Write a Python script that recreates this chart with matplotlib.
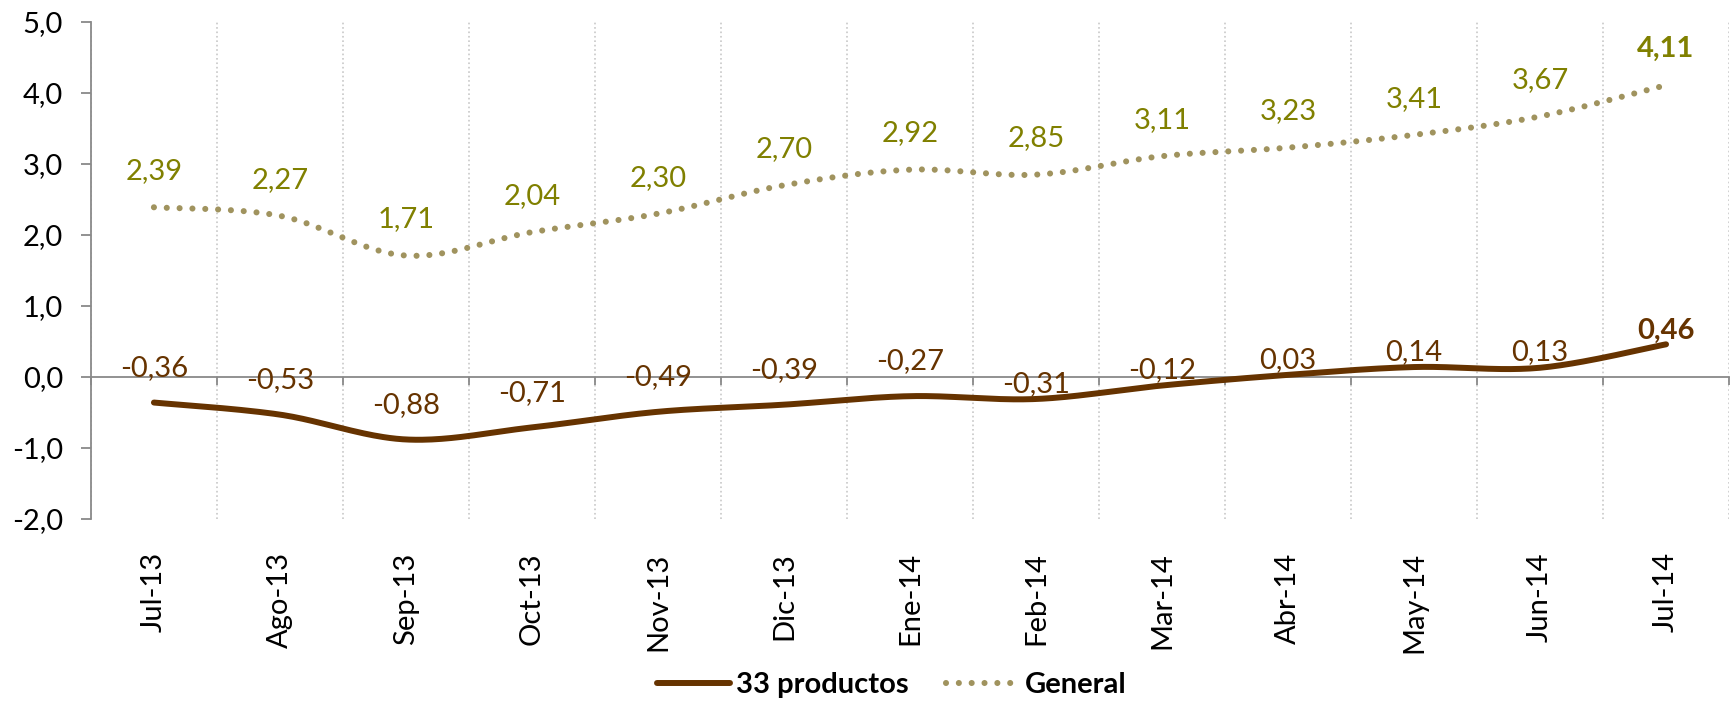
import numpy as np
import matplotlib
matplotlib.use("Agg")
import matplotlib.pyplot as plt
from matplotlib.ticker import FuncFormatter

plt.rcParams['font.family'] = ['Lato', 'DejaVu Sans']

# data
months = ['Jul-13', 'Ago-13', 'Sep-13', 'Oct-13', 'Nov-13', 'Dic-13', 'Ene-14',
          'Feb-14', 'Mar-14', 'Abr-14', 'May-14', 'Jun-14', 'Jul-14']
productos33 = [-0.36, -0.53, -0.88, -0.71, -0.49, -0.39, -0.27,
               -0.31, -0.12, 0.03, 0.14, 0.13, 0.46]
general = [2.39, 2.27, 1.71, 2.04, 2.30, 2.70, 2.92,
           2.85, 3.11, 3.23, 3.41, 3.67, 4.11]

# label offsets (points above the point), layout only
off_prod = [25, 25, 25, 25, 25, 25, 25, 11, 11, 11, 11, 11, 10]
off_gen = 26

BROWN = '#663300'
TAN = '#A0935E'
OLIVE = '#808000'
GREY = '#898989'
FS = 21


def smooth(xs, ys, n=40):
    # excel-like smoothed line: bezier segments, catmull-rom control points
    p = np.column_stack([xs, ys]).astype(float)
    p = np.vstack([p[0], p, p[-1]])
    out = []
    t = np.linspace(0, 1, n)[:, None]
    for i in range(1, len(p) - 2):
        p0, p3 = p[i], p[i + 1]
        p1 = p0 + (p[i + 1] - p[i - 1]) / 6
        p2 = p3 - (p[i + 2] - p[i]) / 6
        seg = ((1 - t) ** 3 * p0 + 3 * (1 - t) ** 2 * t * p1
               + 3 * (1 - t) * t ** 2 * p2 + t ** 3 * p3)
        out.append(seg if i == 1 else seg[1:])
    out = np.vstack(out)
    return out[:, 0], out[:, 1]


x = np.arange(len(months))
fmt = lambda v: f"{v:.2f}".replace('.', ',')

fig = plt.figure(figsize=(17.32, 7.02), dpi=100)
ax = fig.add_axes([0.0525, 0.2607, 0.9458, 0.708])

sx, sy = smooth(x, productos33)
ax.plot(sx, sy, color=BROWN, lw=4.3, solid_capstyle='round', label='33 productos', zorder=3)
gx, gy = smooth(x, general)
ax.plot(gx, gy, color=TAN, lw=4.4, linestyle=(0, (0.001, 2.1)),
        dash_capstyle='round', label='General', zorder=3)

for i, v in enumerate(productos33):
    last = i == len(x) - 1
    ax.annotate(fmt(v), (x[i], v), xytext=(0, off_prod[i]), textcoords='offset points',
                ha='center', va='center', fontsize=FS, color=BROWN,
                fontweight='bold' if last else 'normal')
for i, v in enumerate(general):
    last = i == len(x) - 1
    ax.annotate(fmt(v), (x[i], v), xytext=(0, off_gen), textcoords='offset points',
                ha='center', va='center', fontsize=FS, color=OLIVE,
                fontweight='bold' if last else 'normal')

ax.set_xlim(-0.5, len(x) - 0.5)
ax.set_ylim(-2, 5)
ax.set_yticks(np.arange(-2, 5.1, 1))
ax.yaxis.set_major_formatter(FuncFormatter(lambda v, p: f"{v:.1f}".replace('.', ',')))
ax.tick_params(axis='y', labelsize=FS, length=7, width=1.3, color=GREY, pad=13)

# x axis line through zero with ticks on category borders
ax.spines['bottom'].set_position(('data', 0))
ax.spines['bottom'].set_color(GREY)
ax.spines['bottom'].set_linewidth(1.3)
ax.spines['left'].set_color(GREY)
ax.spines['left'].set_linewidth(1.3)
ax.spines['top'].set_visible(False)
ax.spines['right'].set_visible(False)
ax.set_xticks(np.arange(-0.5, len(x), 1))
ax.tick_params(axis='x', labelbottom=False, length=6, width=1.3, color=GREY)
ax.xaxis.grid(True, linestyle=':', color='#C8C8C8', lw=1.2)

sec = ax.secondary_xaxis('bottom')
sec.set_xticks(x, labels=months, rotation=90)
sec.spines['bottom'].set_visible(False)
sec.tick_params(length=0, pad=24, labelsize=FS)

leg = fig.legend(loc='center', bbox_to_anchor=(0.515, 0.024), ncol=2, frameon=False,
                 prop={'weight': 'bold', 'size': FS}, handlelength=2.5,
                 handletextpad=0.2, columnspacing=1.3)

fig.savefig('out.png', dpi=100)
